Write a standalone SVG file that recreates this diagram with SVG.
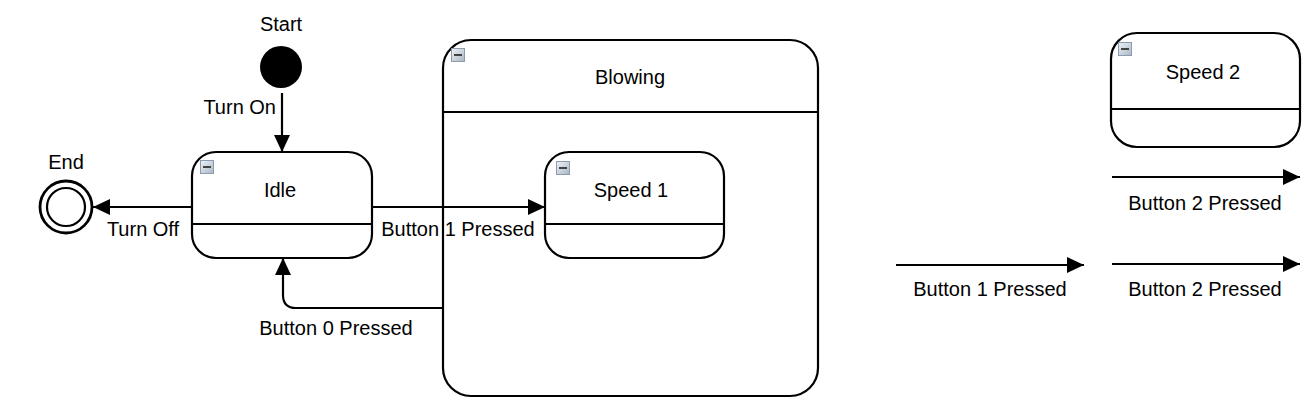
<svg xmlns="http://www.w3.org/2000/svg" width="1307" height="416" viewBox="0 0 1307 416">
<style>
.st{fill:#fff;stroke:#000;stroke-width:2.2}
.dv{stroke:#000;stroke-width:2.2;fill:none}
.cn{stroke:#000;stroke-width:2.2;fill:none;marker-end:url(#ah)}
.t{font-family:"Liberation Sans",Arial,sans-serif;font-size:20px;fill:#000;text-anchor:middle}
.ic{fill:url(#ig);stroke:#8c9bb0;stroke-width:1}
.icd{stroke:#333;stroke-width:1.8}
</style>
<defs>
<marker id="ah" markerUnits="userSpaceOnUse" markerWidth="18" markerHeight="16" refX="17" refY="8" orient="auto">
<path d="M0,0 L17,8 L0,16 z" fill="#000"/>
</marker>
<linearGradient id="ig" x1="0" y1="0" x2="1" y2="1">
<stop offset="0" stop-color="#eef2f6"/>
<stop offset="1" stop-color="#aab6c4"/>
</linearGradient>
<symbol id="icon" overflow="visible">
<rect class="ic" x="0.5" y="0.5" width="13" height="13"/>
<line class="icd" x1="3" y1="7" x2="11" y2="7"/>
</symbol>
</defs>

<g id="start">
<circle cx="281" cy="67" r="21" fill="#000"/>
<text class="t" x="281" y="31">Start</text>
</g>

<g id="end">
<circle cx="66" cy="207" r="26" fill="#fff" stroke="#000" stroke-width="2.8"/>
<circle cx="66" cy="207" r="19" fill="none" stroke="#000" stroke-width="2.2"/>
<text class="t" x="66" y="169">End</text>
</g>

<g id="idle">
<rect class="st" x="192" y="152" width="180" height="106" rx="24"/>
<line class="dv" x1="192" y1="224" x2="372" y2="224"/>
<use href="#icon" x="200" y="160"/>
<text class="t" x="280" y="197">Idle</text>
</g>

<g id="blowing">
<rect class="st" x="443" y="40" width="375" height="356" rx="28"/>
<line class="dv" x1="443" y1="112" x2="818" y2="112"/>
<use href="#icon" x="451" y="48"/>
<text class="t" x="630" y="84">Blowing</text>
</g>

<g id="speed1">
<rect class="st" x="545" y="152" width="179" height="106" rx="24"/>
<line class="dv" x1="545" y1="224" x2="724" y2="224"/>
<use href="#icon" x="556" y="161"/>
<text class="t" x="631" y="197">Speed 1</text>
</g>

<g id="speed2">
<rect class="st" x="1111" y="33" width="189" height="114" rx="26"/>
<line class="dv" x1="1111" y1="109" x2="1300" y2="109"/>
<use href="#icon" x="1118" y="42"/>
<text class="t" x="1203" y="79">Speed 2</text>
</g>

<g id="connectors">
<path class="cn" d="M282,93 V152"/>
<text class="t" x="276" y="114" style="text-anchor:end">Turn On</text>
<path class="cn" d="M192,207 H93"/>
<text class="t" x="143" y="236">Turn Off</text>
<path class="cn" d="M372,207 H545"/>
<text class="t" x="458" y="236">Button 1 Pressed</text>
<path class="cn" d="M443,308 H296 Q283,308 283,295 V258"/>
<text class="t" x="336" y="335">Button 0 Pressed</text>
<path class="cn" d="M1112,177 H1300"/>
<text class="t" x="1205" y="210">Button 2 Pressed</text>
<path class="cn" d="M896,265 H1084"/>
<text class="t" x="990" y="296">Button 1 Pressed</text>
<path class="cn" d="M1112,264 H1300"/>
<text class="t" x="1205" y="296">Button 2 Pressed</text>
</g>
</svg>
